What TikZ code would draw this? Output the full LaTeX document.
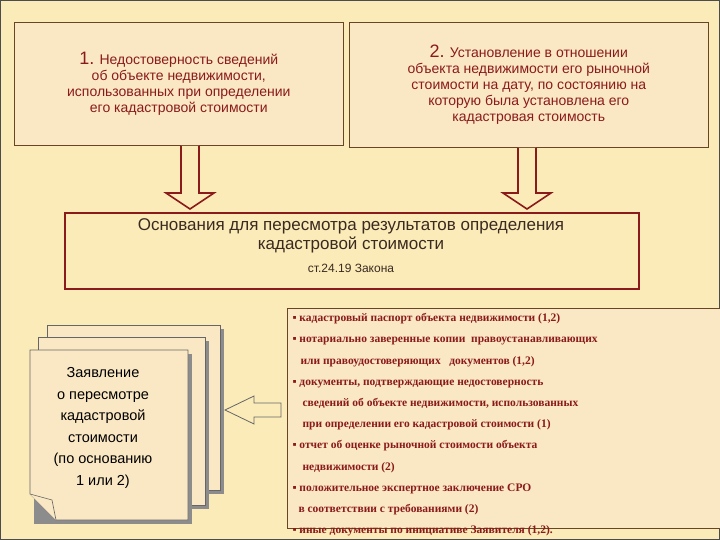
\documentclass[tikz,border=0pt]{standalone}
\usetikzlibrary{calc}
\usepackage{fontspec}
\setmainfont{Liberation Sans}
\newfontfamily\serifx{Liberation Serif}
\definecolor{bg}{HTML}{FBEBB8}
\definecolor{boxf}{HTML}{FAE8C4}
\definecolor{dred}{HTML}{8B1A1A}
\definecolor{txt}{HTML}{3A2A20}
\tikzset{
 topbox/.style={draw=black!45!brown, fill=boxf, line width=0.6pt},
 toptext/.style={text=dred, align=center, font=\fontsize{14}{16}\selectfont},
 hollow/.style={draw=dred, fill=bg, line width=1.6pt, line join=miter},
 page/.style={draw=black!60, fill=boxf, line width=0.6pt},
}
\begin{document}
\begin{tikzpicture}[x=1pt,y=-1pt]
\useasboundingbox (0,0) rectangle (720,540);
\fill[bg] (0,0) rectangle (720,540);
\draw[black!70, line width=1pt] (0.5,0.5) rectangle (719.5,539.5);
% top boxes
\node[topbox, minimum width=329, minimum height=123, anchor=north west] (b1) at (14,22) {};
\node[toptext] (t1) at (b1.center) {{\fontsize{18}{20}\selectfont 1.} Недостоверность сведений\\об объекте недвижимости,\\использованных при определении\\его кадастровой стоимости};
\node[topbox, minimum width=359, minimum height=125, anchor=north west] (b2) at (349,22) {};
\node[toptext] (t2) at (b2.center) {{\fontsize{18}{20}\selectfont 2.} Установление в отношении\\объекта недвижимости его рыночной\\стоимости на дату, по состоянию на\\которую была установлена его\\кадастровая стоимость};
% main box
\node[draw=dred, line width=2.2pt, fill=bg, minimum width=574, minimum height=76, anchor=north west] (m) at (64,212) {};
\node[text=txt, align=center, font=\fontsize{17}{19}\selectfont] (mt) at (351,236) {Основания для пересмотра результатов определения\\кадастровой стоимости};
\node[text=txt, font=\fontsize{12}{14}\selectfont] (ms) at (351,268) {ст.24.19 Закона};
% down arrows
\coordinate (a1) at (190,146);
\coordinate (a2) at (527,148);
\draw[hollow] ($(a1)+(-9,0)$) -- ++(0,47) -- ++(-15,0) -- (190,209) -- ++(24,-16) -- ++(-15,0) -- ++(0,-47);
\draw[hollow] ($(a2)+(-9,0)$) -- ++(0,45) -- ++(-15,0) -- (527,209) -- ++(24,-16) -- ++(-15,0) -- ++(0,-45);
% pages
\fill[black!45] (51,329) rectangle (224,494);
\node[page, minimum width=173, minimum height=165, anchor=north west] (p3) at (47,325) {};
\fill[black!45] (42,341) rectangle (209,509);
\node[page, minimum width=167, minimum height=168, anchor=north west] (p2) at (38,337) {};
\fill[black!45] (34,354) rectangle (192,524);
\draw[page] (30,350) -- (188,350) -- (188,520) -- (56,520) -- (30,494) -- cycle;
\draw[page] (30,494) -- (52,500) -- (56,520);
\node[align=center, text=black, font=\fontsize{14.5}{21.5}\selectfont] (p1t) at (103,428) {Заявление\\о пересмотре\\кадастровой\\стоимости\\(по основанию\\1 или 2)};
% right box
\node[topbox, minimum width=440, minimum height=220, anchor=north west] (r) at (287,308) {};
\node[anchor=north west, align=left, text=dred, font=\serifx\bfseries\fontsize{11.5}{21.2}\selectfont] (rt) at (289,310) {▪ кадастровый паспорт объекта недвижимости (1,2)\\▪ нотариально заверенные копии~ правоустанавливающих\\\hspace*{8pt}или правоудостоверяющих~~~документов (1,2)\\▪ документы, подтверждающие недостоверность\\\hspace*{10pt}сведений об объекте недвижимости, использованных\\\hspace*{10pt}при определении его кадастровой стоимости (1)\\▪ отчет об оценке рыночной стоимости объекта\\\hspace*{10pt}недвижимости (2)\\▪ положительное экспертное заключение СРО\\\hspace*{6pt}в соответствии с требованиями (2)\\▪ иные документы по инициативе Заявителя (1,2).};
% left arrow
\draw[hollow, line width=0.8pt, draw=black!60] (281,403) -- (254,403) -- (254,396) -- (225,410) -- (254,424) -- (254,417) -- (281,417) -- cycle;
\end{tikzpicture}
\end{document}
